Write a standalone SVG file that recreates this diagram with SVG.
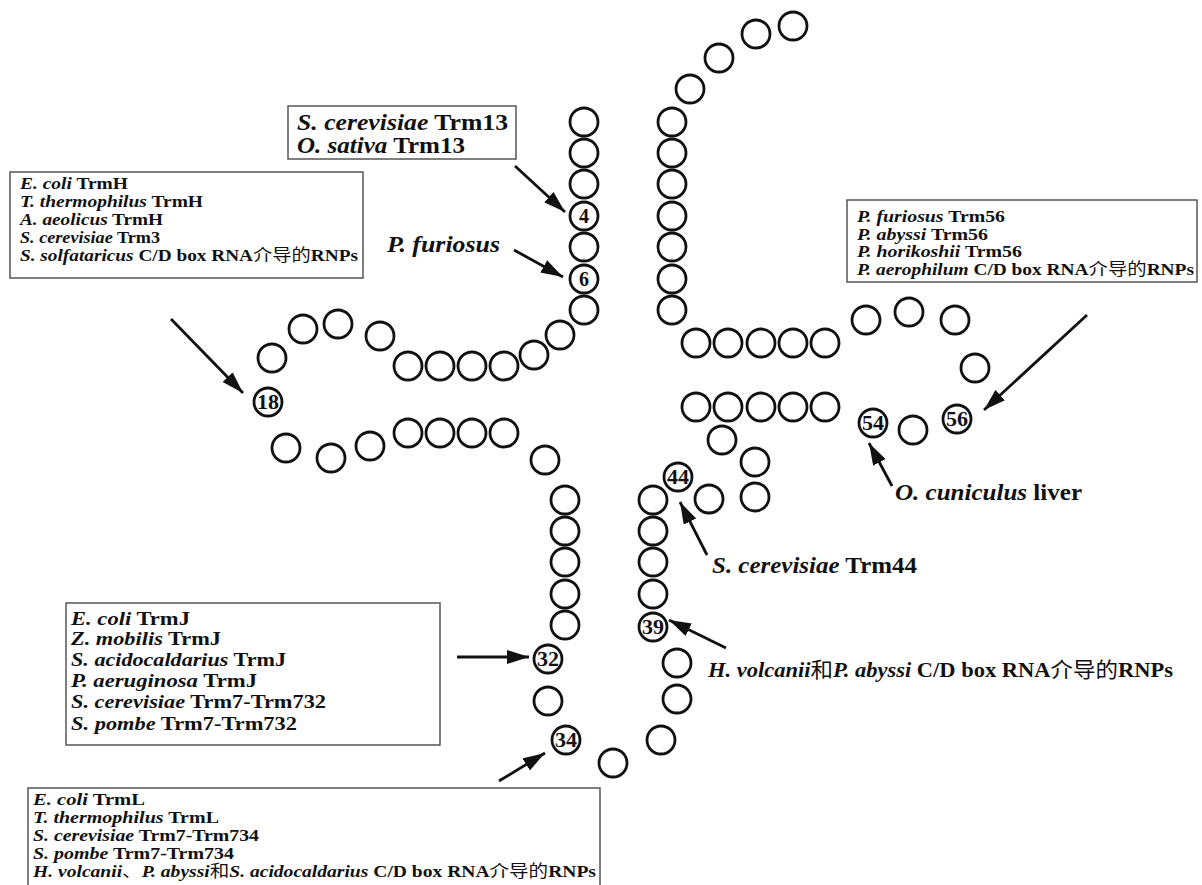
<svg xmlns="http://www.w3.org/2000/svg" width="1202" height="885" viewBox="0 0 1202 885">
<style>
.c{fill:#fff;stroke:#111;stroke-width:2.8}
.n{font-family:"Liberation Serif",serif;font-weight:bold;font-size:20px;text-anchor:middle;fill:#111}
.t{font-family:"Liberation Serif",serif;font-weight:bold;fill:#111}
.i{font-style:italic}
.k{font-family:"Noto Sans CJK SC",sans-serif;font-weight:normal}
.box{fill:none;stroke:#555;stroke-width:1.5}
.arr{stroke:#111;stroke-width:2.8;fill:none;marker-end:url(#ah)}
</style>
<defs>
<marker id="ah" markerUnits="userSpaceOnUse" markerWidth="24" markerHeight="16" refX="22" refY="7" orient="auto">
<path d="M0,0 L22,7 L0,14 z" fill="#111"/>
</marker>
</defs>
<g id="acceptor5">
<circle class="c" cx="584" cy="122" r="14"/><circle class="c" cx="584" cy="153" r="14"/><circle class="c" cx="584" cy="184" r="14"/>
<g id="n4"><circle class="c" cx="584" cy="216" r="14"/><text class="n" x="584" y="223">4</text></g>
<circle class="c" cx="584" cy="247" r="14"/>
<g id="n6"><circle class="c" cx="584" cy="279" r="14"/><text class="n" x="584" y="286">6</text></g>
<circle class="c" cx="584" cy="310" r="14"/>
</g>
<g id="darm">
<circle class="c" cx="560" cy="335" r="14"/><circle class="c" cx="534" cy="355" r="14"/>
<circle class="c" cx="504" cy="366" r="14"/><circle class="c" cx="472" cy="366" r="14"/><circle class="c" cx="440" cy="366" r="14"/><circle class="c" cx="408" cy="366" r="14"/>
<circle class="c" cx="380" cy="336" r="14"/><circle class="c" cx="338" cy="324" r="14"/><circle class="c" cx="303" cy="329" r="14"/><circle class="c" cx="272" cy="358" r="14"/>
<g id="n18"><circle class="c" cx="268" cy="402" r="14"/><text class="n" x="268" y="409" textLength="22" lengthAdjust="spacingAndGlyphs">18</text></g>
<circle class="c" cx="286" cy="448" r="14"/><circle class="c" cx="331" cy="458" r="14"/><circle class="c" cx="370" cy="446" r="14"/>
<circle class="c" cx="408" cy="433" r="14"/><circle class="c" cx="440" cy="433" r="14"/><circle class="c" cx="472" cy="433" r="14"/><circle class="c" cx="504" cy="433" r="14"/>
<circle class="c" cx="545" cy="460" r="14"/>
</g>
<g id="anticodon">
<circle class="c" cx="565" cy="500" r="14"/><circle class="c" cx="565" cy="531" r="14"/><circle class="c" cx="565" cy="562" r="14"/><circle class="c" cx="565" cy="594" r="14"/><circle class="c" cx="565" cy="625" r="14"/>
<g id="n32"><circle class="c" cx="548" cy="659" r="14"/><text class="n" x="548" y="666" textLength="22" lengthAdjust="spacingAndGlyphs">32</text></g>
<circle class="c" cx="548" cy="701" r="14"/>
<g id="n34"><circle class="c" cx="566" cy="740" r="14"/><text class="n" x="566" y="747" textLength="22" lengthAdjust="spacingAndGlyphs">34</text></g>
<circle class="c" cx="613" cy="763" r="14"/><circle class="c" cx="661" cy="740" r="14"/><circle class="c" cx="677" cy="699" r="14"/><circle class="c" cx="677" cy="663" r="14"/>
<g id="n39"><circle class="c" cx="653" cy="627" r="14"/><text class="n" x="653" y="634" textLength="22" lengthAdjust="spacingAndGlyphs">39</text></g>
<circle class="c" cx="653" cy="594" r="14"/><circle class="c" cx="653" cy="562" r="14"/><circle class="c" cx="653" cy="531" r="14"/><circle class="c" cx="653" cy="500" r="14"/>
</g>
<g id="variable">
<g id="n44"><circle class="c" cx="678" cy="477" r="14"/><text class="n" x="678" y="484" textLength="22" lengthAdjust="spacingAndGlyphs">44</text></g>
<circle class="c" cx="709" cy="499" r="14"/><circle class="c" cx="755" cy="497" r="14"/><circle class="c" cx="755" cy="462" r="14"/><circle class="c" cx="722" cy="440" r="14"/>
</g>
<g id="tarm">
<circle class="c" cx="696" cy="407" r="14"/><circle class="c" cx="728" cy="407" r="14"/><circle class="c" cx="761" cy="407" r="14"/><circle class="c" cx="793" cy="407" r="14"/><circle class="c" cx="825" cy="407" r="14"/>
<g id="n54"><circle class="c" cx="873" cy="423" r="14"/><text class="n" x="873" y="430" textLength="22" lengthAdjust="spacingAndGlyphs">54</text></g>
<circle class="c" cx="913" cy="430" r="14"/>
<g id="n56"><circle class="c" cx="957" cy="419" r="14"/><text class="n" x="957" y="426" textLength="22" lengthAdjust="spacingAndGlyphs">56</text></g>
<circle class="c" cx="975" cy="368" r="14"/><circle class="c" cx="955" cy="320" r="14"/><circle class="c" cx="909" cy="312" r="14"/><circle class="c" cx="866" cy="320" r="14"/>
<circle class="c" cx="825" cy="343" r="14"/><circle class="c" cx="793" cy="343" r="14"/><circle class="c" cx="761" cy="343" r="14"/><circle class="c" cx="728" cy="343" r="14"/><circle class="c" cx="696" cy="343" r="14"/>
</g>
<g id="acceptor3">
<circle class="c" cx="672" cy="310" r="14"/><circle class="c" cx="672" cy="279" r="14"/><circle class="c" cx="672" cy="247" r="14"/><circle class="c" cx="672" cy="216" r="14"/><circle class="c" cx="672" cy="184" r="14"/><circle class="c" cx="672" cy="153" r="14"/><circle class="c" cx="672" cy="122" r="14"/>
<circle class="c" cx="690" cy="89" r="14"/><circle class="c" cx="719" cy="58" r="14"/><circle class="c" cx="756" cy="34" r="14"/><circle class="c" cx="793" cy="26" r="14"/>
</g>
<g id="connectors">
<line class="arr" x1="171" y1="319" x2="243" y2="393"/>
<line class="arr" x1="515" y1="166" x2="565" y2="212"/>
<line class="arr" x1="514" y1="250" x2="563" y2="277"/>
<line class="arr" x1="1087" y1="315" x2="984" y2="410"/>
<line class="arr" x1="892" y1="486" x2="869" y2="443"/>
<line class="arr" x1="707" y1="555" x2="680" y2="502"/>
<line class="arr" x1="726" y1="648" x2="669" y2="620"/>
<line class="arr" x1="457" y1="657" x2="529" y2="657"/>
<line class="arr" x1="499" y1="781" x2="545" y2="753"/>
</g>
<g id="box-trm13">
<rect class="box" x="288" y="106" width="228" height="53"/>
<text class="t" x="297" y="130" font-size="24" textLength="211" lengthAdjust="spacingAndGlyphs"><tspan class="i">S. cerevisiae</tspan>  Trm13</text>
<text class="t" x="297" y="153" font-size="24" textLength="168" lengthAdjust="spacingAndGlyphs"><tspan class="i">O. sativa</tspan> Trm13</text>
</g>
<g id="box-trmH">
<rect class="box" x="10" y="172" width="353" height="106"/>
<text class="t" x="20" y="189" font-size="16.5" textLength="108" lengthAdjust="spacingAndGlyphs"><tspan class="i">E. coli</tspan> TrmH</text>
<text class="t" x="20" y="207" font-size="16.5" textLength="183" lengthAdjust="spacingAndGlyphs"><tspan class="i">T. thermophilus</tspan> TrmH</text>
<text class="t" x="20" y="225" font-size="16.5" textLength="143" lengthAdjust="spacingAndGlyphs"><tspan class="i">A. aeolicus</tspan> TrmH</text>
<text class="t" x="20" y="243" font-size="16.5" textLength="140" lengthAdjust="spacingAndGlyphs"><tspan class="i">S. cerevisiae</tspan>  Trm3</text>
<text class="t" x="20" y="261" font-size="16.5" textLength="338" lengthAdjust="spacingAndGlyphs"><tspan class="i">S. solfataricus</tspan> C/D box RNA<tspan class="k">介导的</tspan>RNPs</text>
</g>
<g id="box-trm56">
<rect class="box" x="847" y="200" width="350" height="82"/>
<text class="t" x="857" y="222" font-size="16.5" textLength="148" lengthAdjust="spacingAndGlyphs"><tspan class="i">P. furiosus</tspan> Trm56</text>
<text class="t" x="857" y="240" font-size="16.5" textLength="131" lengthAdjust="spacingAndGlyphs"><tspan class="i">P. abyssi</tspan> Trm56</text>
<text class="t" x="857" y="257" font-size="16.5" textLength="165" lengthAdjust="spacingAndGlyphs"><tspan class="i">P. horikoshii</tspan> Trm56</text>
<text class="t" x="857" y="275" font-size="16.5" textLength="337" lengthAdjust="spacingAndGlyphs"><tspan class="i">P. aerophilum</tspan> C/D box RNA<tspan class="k">介导的</tspan>RNPs</text>
</g>
<g id="box-trmJ">
<rect class="box" x="66" y="603" width="374" height="142"/>
<text class="t" x="71" y="625" font-size="19" textLength="119" lengthAdjust="spacingAndGlyphs"><tspan class="i">E. coli</tspan> TrmJ</text>
<text class="t" x="71" y="645" font-size="19" textLength="150" lengthAdjust="spacingAndGlyphs"><tspan class="i">Z. mobilis</tspan> TrmJ</text>
<text class="t" x="71" y="666" font-size="19" textLength="215" lengthAdjust="spacingAndGlyphs"><tspan class="i">S. acidocaldarius</tspan> TrmJ</text>
<text class="t" x="71" y="687" font-size="19" textLength="186" lengthAdjust="spacingAndGlyphs"><tspan class="i">P. aeruginosa</tspan> TrmJ</text>
<text class="t" x="71" y="708" font-size="19" textLength="255" lengthAdjust="spacingAndGlyphs"><tspan class="i">S. cerevisiae</tspan> Trm7-Trm732</text>
<text class="t" x="71" y="730" font-size="19" textLength="226" lengthAdjust="spacingAndGlyphs"><tspan class="i">S. pombe</tspan> Trm7-Trm732</text>
</g>
<g id="box-trmL">
<rect class="box" x="28" y="788" width="572" height="110"/>
<text class="t" x="33" y="805" font-size="16.5" textLength="112" lengthAdjust="spacingAndGlyphs"><tspan class="i">E. coli</tspan> TrmL</text>
<text class="t" x="33" y="823" font-size="16.5" textLength="186" lengthAdjust="spacingAndGlyphs"><tspan class="i">T. thermophilus</tspan> TrmL</text>
<text class="t" x="33" y="841" font-size="16.5" textLength="226" lengthAdjust="spacingAndGlyphs"><tspan class="i">S. cerevisiae</tspan> Trm7-Trm734</text>
<text class="t" x="33" y="859" font-size="16.5" textLength="201" lengthAdjust="spacingAndGlyphs"><tspan class="i">S. pombe</tspan> Trm7-Trm734</text>
<text class="t" x="33" y="877" font-size="16.5" textLength="563" lengthAdjust="spacingAndGlyphs"><tspan class="i">H. volcanii</tspan><tspan class="k">、</tspan><tspan class="i">P. abyssi</tspan><tspan class="k">和</tspan><tspan class="i">S. acidocaldarius</tspan> C/D box RNA<tspan class="k">介导的</tspan>RNPs</text>
</g>
<g id="labels">
<text class="t i" x="387" y="252" font-size="22.5" textLength="113" lengthAdjust="spacingAndGlyphs">P. furiosus</text>
<text class="t" x="895" y="500" font-size="22.5" textLength="187" lengthAdjust="spacingAndGlyphs"><tspan class="i">O. cuniculus</tspan> liver</text>
<text class="t" x="712" y="573" font-size="22.5" textLength="205" lengthAdjust="spacingAndGlyphs"><tspan class="i">S. cerevisiae</tspan> Trm44</text>
<text class="t" x="708" y="677" font-size="21" textLength="465" lengthAdjust="spacingAndGlyphs"><tspan class="i">H. volcanii</tspan><tspan class="k">和</tspan><tspan class="i">P. abyssi</tspan>  C/D box RNA<tspan class="k">介导的</tspan>RNPs</text>
</g>
</svg>
